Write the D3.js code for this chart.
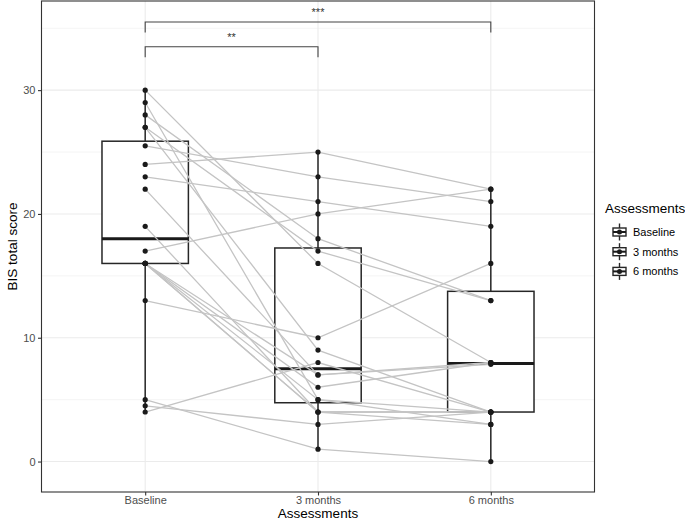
<!DOCTYPE html>
<html>
<head>
<meta charset="utf-8">
<script src="https://cdn.jsdelivr.net/npm/d3@7"></script>
<style>
  body { margin: 0; background: #fff; }
  text { font-family: "Liberation Sans", Arial, sans-serif; }
</style>
</head>
<body>
<div id="chart"></div>
<script>
// categories
var assessments = ["Baseline", "3 months", "6 months"];

// one value per subject, same order in each list
var baseline = [30, 29, 28, 27, 27, 25.5, 24, 23, 22, 19, 17, 16, 16, 16, 16, 16, 13, 5, 4.5, 4];
var months3  = [16, 5, 18, 17, 9, 23, 25, 21, 7, 4, 20, 6, 7, 5, 4, 4, 10, 1, 3, 8];
var months6  = [8, 3, 13, 13, 4, 21, 22, 19, 8, 4, 22, 8, 7.85, 4, 4, 3, 16, 0, 4, 4];

var yTicks = [0, 10, 20, 30];
var yMinor = [5, 15, 25, 35];

// significance brackets
var bracketFrom  = ["Baseline", "Baseline"];
var bracketTo    = ["3 months", "6 months"];
var bracketLevel = [33.5, 35.5];
var bracketLabel = ["**", "***"];

var W = 685, H = 522;
var svg = d3.select("#chart").append("svg").attr("width", W).attr("height", H);

var panel = {left: 41.5, right: 594.5, top: 1, bottom: 492};

var x = d3.scalePoint().domain(assessments).range([panel.left, panel.right]).padding(0.6);
var y = d3.scaleLinear().domain([-2.46, 37.2]).range([panel.bottom, panel.top]);

var series = [baseline, months3, months6];

// grid
var g = svg.append("g");
g.selectAll(".minor").data(yMinor).enter().append("line")
    .attr("x1", panel.left).attr("x2", panel.right)
    .attr("y1", d => y(d)).attr("y2", d => y(d))
    .attr("stroke", "#ebebeb").attr("stroke-width", 0.55);
g.selectAll(".major").data(yTicks).enter().append("line")
    .attr("x1", panel.left).attr("x2", panel.right)
    .attr("y1", d => y(d)).attr("y2", d => y(d))
    .attr("stroke", "#ebebeb").attr("stroke-width", 1.1);
g.selectAll(".xmajor").data(assessments).enter().append("line")
    .attr("x1", d => x(d)).attr("x2", d => x(d))
    .attr("y1", panel.top).attr("y2", panel.bottom)
    .attr("stroke", "#ebebeb").attr("stroke-width", 1.1);

// box stats
var stats = series.map(function (vals, i) {
    var s = vals.slice().sort(d3.ascending);
    var q1 = d3.quantile(s, 0.25), med = d3.quantile(s, 0.5), q3 = d3.quantile(s, 0.75);
    var iqr = q3 - q1;
    var lo = d3.min(s.filter(v => v >= q1 - 1.5 * iqr));
    var hi = d3.max(s.filter(v => v <= q3 + 1.5 * iqr));
    return {key: assessments[i], q1: q1, med: med, q3: q3, lo: lo, hi: hi};
});

var bw = x.step() * 0.5;
var boxColor = "#262626";

var boxes = svg.append("g").selectAll("g").data(stats).enter().append("g");
boxes.append("rect")
    .attr("x", d => x(d.key) - bw / 2).attr("width", bw)
    .attr("y", d => y(d.q3)).attr("height", d => y(d.q1) - y(d.q3))
    .attr("fill", "#fff").attr("stroke", boxColor).attr("stroke-width", 1.5);
boxes.append("line")
    .attr("x1", d => x(d.key) - bw / 2).attr("x2", d => x(d.key) + bw / 2)
    .attr("y1", d => y(d.med)).attr("y2", d => y(d.med))
    .attr("stroke", "#1a1a1a").attr("stroke-width", 3);

// subject lines
var subjects = baseline.map(function (b, i) {
    return [b, months3[i], months6[i]].map((v, j) => ({key: assessments[j], v: v}));
});
var line = d3.line().x(d => x(d.key)).y(d => y(d.v));
svg.append("g").selectAll("path").data(subjects).enter().append("path")
    .attr("d", line).attr("fill", "none")
    .attr("stroke", "#c4c4c4").attr("stroke-width", 1.3);

// whiskers on top of the grey lines
var wh = svg.append("g").selectAll("g").data(stats).enter().append("g");
wh.append("line")
    .attr("x1", d => x(d.key)).attr("x2", d => x(d.key))
    .attr("y1", d => y(d.q3)).attr("y2", d => y(d.hi))
    .attr("stroke", boxColor).attr("stroke-width", 1.5);
wh.append("line")
    .attr("x1", d => x(d.key)).attr("x2", d => x(d.key))
    .attr("y1", d => y(d.q1)).attr("y2", d => y(d.lo))
    .attr("stroke", boxColor).attr("stroke-width", 1.5);

// points
var pts = [];
series.forEach((vals, j) => vals.forEach(v => pts.push({key: assessments[j], v: v})));
svg.append("g").selectAll("circle").data(pts).enter().append("circle")
    .attr("cx", d => x(d.key)).attr("cy", d => y(d.v)).attr("r", 2.6)
    .attr("fill", "#1a1a1a");

// brackets
var br = svg.append("g");
bracketLevel.forEach(function (lv, i) {
    var x1 = x(bracketFrom[i]), x2 = x(bracketTo[i]);
    br.append("path")
        .attr("d", "M" + x1 + "," + y(lv - 0.85) + "V" + y(lv) + "H" + x2 + "V" + y(lv - 0.85))
        .attr("fill", "none").attr("stroke", "#444").attr("stroke-width", 1.1);
    br.append("text")
        .attr("x", (x1 + x2) / 2).attr("y", y(lv + 0.5))
        .attr("text-anchor", "middle").attr("font-size", 11).attr("fill", "#333")
        .text(bracketLabel[i]);
});

// panel border
svg.append("rect")
    .attr("x", panel.left).attr("y", panel.top)
    .attr("width", panel.right - panel.left).attr("height", panel.bottom - panel.top)
    .attr("fill", "none").attr("stroke", "#333333").attr("stroke-width", 1.1);

// axes
var yAxis = svg.append("g").attr("transform", "translate(" + panel.left + ",0)")
    .call(d3.axisLeft(y).tickValues(yTicks).tickSize(3.5).tickPadding(2.5));
var xAxis = svg.append("g").attr("transform", "translate(0," + panel.bottom + ")")
    .call(d3.axisBottom(x).tickSize(3.5).tickPadding(0.5));
[yAxis, xAxis].forEach(function (ax) {
    ax.select(".domain").remove();
    ax.selectAll(".tick line").attr("stroke", "#333333").attr("stroke-width", 1.1);
    ax.selectAll(".tick text").attr("fill", "#4d4d4d").attr("font-size", 11)
        .attr("font-family", "Liberation Sans, Arial, sans-serif");
});

svg.append("text")
    .attr("x", (panel.left + panel.right) / 2).attr("y", 518)
    .attr("text-anchor", "middle").attr("font-size", 13.5).attr("fill", "#000")
    .text("Assessments");
svg.append("text")
    .attr("transform", "translate(17," + ((panel.top + panel.bottom) / 2) + ") rotate(-90)")
    .attr("text-anchor", "middle").attr("font-size", 13.5).attr("fill", "#000")
    .text("BIS total score");

// legend
var lg = svg.append("g").attr("transform", "translate(605,0)");
lg.append("text").attr("x", 0).attr("y", 213)
    .attr("font-size", 13.5).attr("fill", "#000").text("Assessments");
var keys = lg.selectAll(".key").data(assessments).enter().append("g")
    .attr("transform", (d, i) => "translate(0," + (232 + i * 19.7) + ")");
keys.append("line").attr("x1", 14.5).attr("x2", 14.5).attr("y1", -8.5).attr("y2", 8.5)
    .attr("stroke", boxColor).attr("stroke-width", 1.4);
keys.append("rect").attr("x", 8).attr("y", -4).attr("width", 13).attr("height", 8)
    .attr("fill", "#fff").attr("stroke", boxColor).attr("stroke-width", 1.4);
keys.append("line").attr("x1", 8).attr("x2", 21).attr("y1", 0).attr("y2", 0)
    .attr("stroke", "#1a1a1a").attr("stroke-width", 2);
keys.append("circle").attr("cx", 14.5).attr("cy", 0).attr("r", 2.5).attr("fill", "#1a1a1a");
keys.append("text").attr("x", 28).attr("y", 4)
    .attr("font-size", 11).attr("fill", "#000").text(d => d);
</script>
</body>
</html>
